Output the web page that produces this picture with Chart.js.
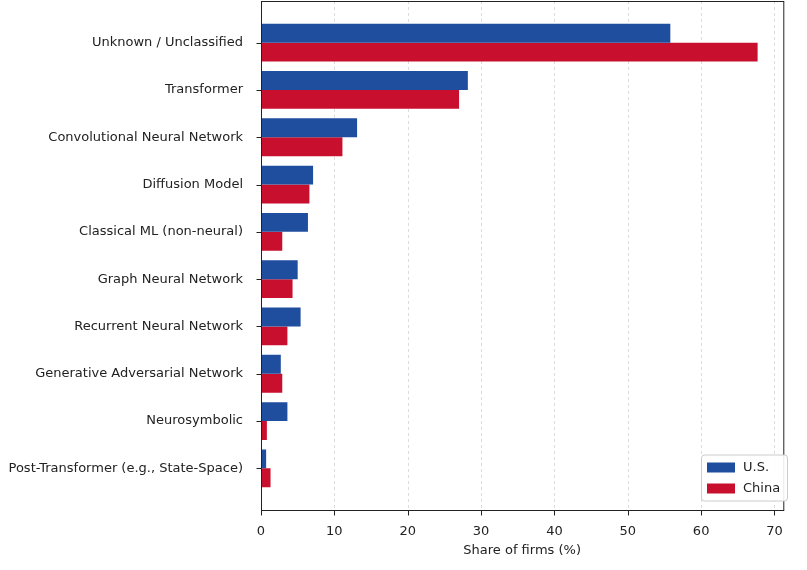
<!DOCTYPE html>
<html>
<head>
<meta charset="utf-8">
<script src="https://cdn.jsdelivr.net/npm/chart.js@4"></script>
<style>
  html, body { margin: 0; padding: 0; background: #fff; }
  #wrap { width: 807px; height: 570px; }
</style>
</head>
<body>
<div id="wrap"><canvas id="chart"></canvas></div>
<script>
// Share of firms by model architecture
var labels = [
	'Unknown / Unclassified',
	'Transformer',
	'Convolutional Neural Network',
	'Diffusion Model',
	'Classical ML (non-neural)',
	'Graph Neural Network',
	'Recurrent Neural Network',
	'Generative Adversarial Network',
	'Neurosymbolic',
	'Post-Transformer (e.g., State-Space)'
];
var usShare    = [55.8, 28.2, 13.1, 7.1, 6.4, 5.0, 5.4, 2.7, 3.6, 0.7];
var chinaShare = [67.7, 27.0, 11.1, 6.6, 2.9, 4.3, 3.6, 2.9, 0.8, 1.3];

var US_COLOR = '#1f4e9e';
var CN_COLOR = '#c8102e';

// matplotlib leaves a margin above/below the bars, the frame is drawn by hand
var MARGIN = 18;

var frame = {
	id: 'frame',
	beforeDatasetsDraw: function(chart) {
		var ctx = chart.ctx, a = chart.chartArea, x = chart.scales.x;
		var top = a.top - MARGIN, bottom = a.bottom + MARGIN;
		ctx.save();
		ctx.strokeStyle = '#d4d4d4';
		ctx.setLineDash([3, 3]);
		ctx.lineWidth = 0.8;
		for (var v = 0; v <= 70; v += 10) {
			var px = Math.round(x.getPixelForValue(v)) + 0.5;
			ctx.beginPath();
			ctx.moveTo(px, top);
			ctx.lineTo(px, bottom);
			ctx.stroke();
		}
		ctx.restore();
	},
	afterDatasetsDraw: function(chart) {
		var ctx = chart.ctx, a = chart.chartArea, x = chart.scales.x, y = chart.scales.y;
		var top = a.top - MARGIN + 0.5, bottom = a.bottom + MARGIN + 0.5;
		var left = a.left + 0.5, right = a.right + 0.5;
		ctx.save();
		ctx.strokeStyle = '#222';
		ctx.lineWidth = 1;
		ctx.strokeRect(left, top, right - left, bottom - top);
		ctx.beginPath();
		for (var v = 0; v <= 70; v += 10) {
			var px = Math.round(x.getPixelForValue(v)) + 0.5;
			ctx.moveTo(px, bottom);
			ctx.lineTo(px, bottom + 5);
		}
		for (var i = 0; i < labels.length; i++) {
			var py = Math.round(y.getPixelForValue(i)) + 0.5;
			ctx.moveTo(left, py);
			ctx.lineTo(left - 5, py);
		}
		ctx.stroke();

		// legend inside the plot, bottom right
		var w = 86, h = 46, lx = 701, ly = bottom - h - 10;
		ctx.fillStyle = 'rgba(255,255,255,0.9)';
		ctx.strokeStyle = '#ccc';
		ctx.beginPath();
		ctx.roundRect(lx + 0.5, ly + 0.5, w, h, 3);
		ctx.fill();
		ctx.stroke();
		ctx.font = '13px "DejaVu Sans"';
		ctx.textBaseline = 'middle';
		[['U.S.', US_COLOR], ['China', CN_COLOR]].forEach(function(it, i) {
			var cy = ly + 13 + i * 21;
			ctx.fillStyle = it[1];
			ctx.fillRect(lx + 6, cy - 5, 28, 10);
			ctx.fillStyle = '#222';
			ctx.fillText(it[0], lx + 42, cy);
		});
		ctx.restore();
	}
};

new Chart(document.getElementById('chart'), {
	type: 'bar',
	data: {
		labels: labels,
		datasets: [
			{ label: 'U.S.', data: usShare, backgroundColor: US_COLOR },
			{ label: 'China', data: chinaShare, backgroundColor: CN_COLOR }
		]
	},
	options: {
		indexAxis: 'y',
		responsive: true,
		maintainAspectRatio: false,
		animation: false,
		categoryPercentage: 0.8,
		barPercentage: 1.0,
		layout: { padding: { top: 19, right: 14, bottom: 0, left: 0 } },
		plugins: {
			legend: { display: false },
			tooltip: { enabled: false }
		},
		scales: {
			x: {
				min: 0,
				max: 71.2,
				border: { display: false },
				grid: { display: false },
				afterBuildTicks: function(scale) {
					scale.ticks = [0, 10, 20, 30, 40, 50, 60, 70].map(function(v) { return { value: v }; });
				},
				afterFit: function(scale) { scale.height = 78; },
				ticks: {
					padding: 24,
					autoSkip: false,
					maxRotation: 0,
					color: '#222',
					font: { family: 'DejaVu Sans', size: 13 }
				},
				title: {
					display: true, text: 'Share of firms (%)', color: '#222',
					padding: { top: 4, bottom: 12 },
					font: { family: 'DejaVu Sans', size: 13 }
				}
			},
			y: {
				border: { display: false },
				grid: { display: false },
				afterFit: function(scale) { scale.width = 261; },
				ticks: { padding: 10, color: '#222', font: { family: 'DejaVu Sans', size: 13 } }
			}
		}
	},
	plugins: [frame]
});
</script>
</body>
</html>
